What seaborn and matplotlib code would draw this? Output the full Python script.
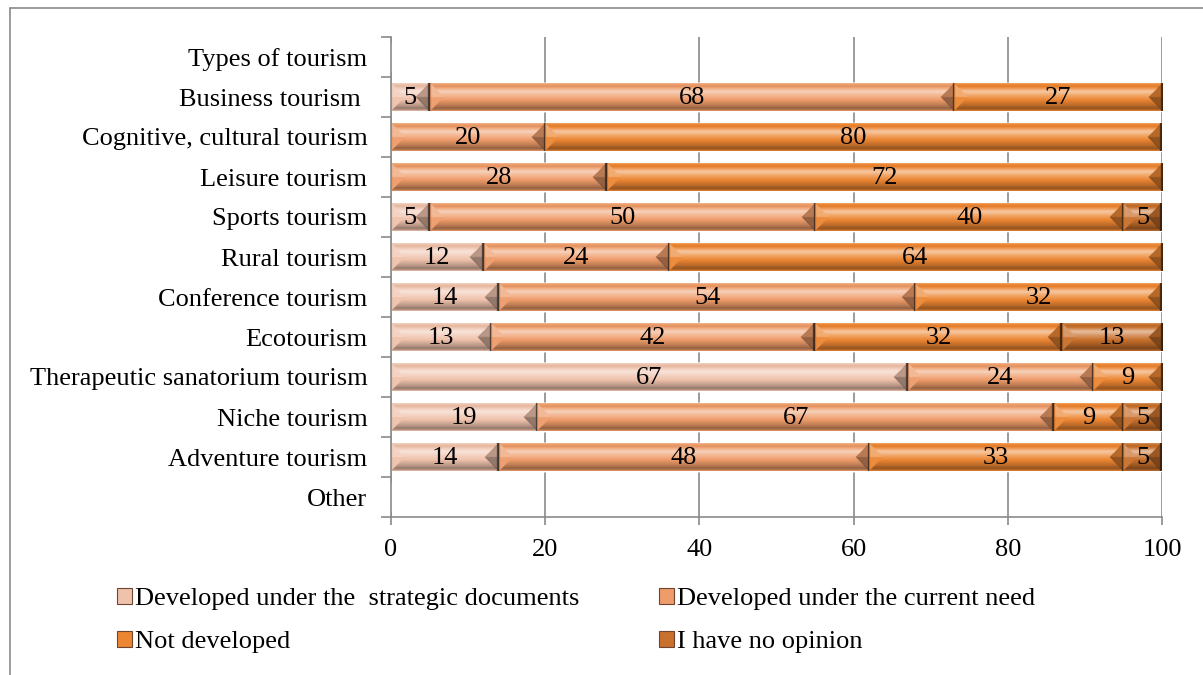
import numpy as np
import pandas as pd
import matplotlib
matplotlib.use("Agg")
import matplotlib.pyplot as plt
import seaborn as sns
from matplotlib.colors import to_rgb
from matplotlib.patches import Patch
from matplotlib.lines import Line2D

# ---- data -------------------------------------------------------------
categories = [
    "Types of tourism",
    "Business tourism ",
    "Cognitive, cultural tourism",
    "Leisure tourism",
    "Sports tourism",
    "Rural tourism",
    "Conference tourism",
    "Ecotourism",
    "Therapeutic sanatorium tourism",
    "Niche tourism",
    "Adventure tourism",
    "Other",
]
strategic = [0, 5, 0, 0, 5, 12, 14, 13, 67, 19, 14, 0]
current_need = [0, 68, 20, 28, 50, 24, 54, 42, 24, 67, 48, 0]
not_developed = [0, 27, 80, 72, 40, 64, 32, 32, 9, 9, 33, 0]
no_opinion = [0, 0, 0, 0, 5, 0, 0, 13, 0, 5, 5, 0]

series_names = [
    "Developed under the  strategic documents",
    "Developed under the current need",
    "Not developed",
    "I have no opinion",
]
series_colors = ["#EFC2AC", "#EE9C6A", "#EC8633", "#C8702C"]
x_ticks = [0, 20, 40, 60, 80, 100]

# ---- style ------------------------------------------------------------
sns.set_theme(style="white")
plt.rcParams["font.family"] = ["Liberation Serif", "DejaVu Serif"]
plt.rcParams["text.color"] = "black"
plt.rcParams["xtick.labelcolor"] = "black"
plt.rcParams["ytick.labelcolor"] = "black"
FS = 19
GRAY = "#8a8a8a"

fig = plt.figure(figsize=(12.03, 6.75), dpi=100)
ax = fig.add_axes([391 / 1203, 1 - 517 / 675, 771 / 1203, 480 / 675])

df = pd.DataFrame({"category": categories})
for name, vals in zip(series_names, [strategic, current_need, not_developed, no_opinion]):
    df[name] = vals
cum = df[series_names].cumsum(axis=1)

# stacked bars: draw the longest cumulative first, shorter ones on top
BAR_H = 0.7
for name, color in reversed(list(zip(series_names, series_colors))):
    sns.barplot(x=cum[name], y=df["category"], order=categories, color=color,
                orient="h", width=BAR_H, saturation=1, errorbar=None, ax=ax,
                zorder=1)

ax.set_xlim(0, 100)
ax.set_ylim(len(categories) - 0.5, -0.5)


def shade(rgb, w_px, h_px):
    """Bevelled bar surface: vertical sheen plus lighter/darker end facets."""
    rgb = np.asarray(rgb)
    H = max(int(h_px * 3), 4)
    W = max(int(w_px * 2), 4)
    v = (np.arange(H) + 0.5) / H
    u = (np.arange(W) + 0.5) * (w_px / W)  # pixels from left end
    pv = [0.0, 0.05, 0.13, 0.3, 0.45, 0.6, 0.8, 0.9, 0.97, 1.0]
    pt = [0.3, 0.0, -0.06, 0.55, 0.25, 0.0, -0.22, -0.38, -0.2, 0.1]
    t = np.interp(v, pv, pt)[:, None] * np.ones((1, W))
    d_top = v[:, None] * h_px
    d_bot = (1 - v[:, None]) * h_px
    d_side = np.minimum(d_top, d_bot)
    d_left = u[None, :] * np.ones((H, 1))
    d_right = (w_px - u)[None, :] * np.ones((H, 1))
    left_facet = d_left < d_side
    right_facet = d_right < d_side
    upper = v[:, None] < 0.5
    t = np.where(left_facet, np.where(upper, 0.3, 0.05), t)
    t = np.where(right_facet, np.where(upper, -0.22, -0.38), t)
    t = np.where(np.abs(d_right - d_side) < 0.7, t - 0.15, t)
    t = np.where(d_right < 1.8, -0.72, t)
    t = np.where(d_left < 0.8, -0.2, t)
    t = t[:, :, None]
    out = np.where(t > 0, rgb + (1 - rgb) * t, rgb * (1 + t))
    return np.clip(out, 0, 1)


fig.canvas.draw()
px_x = ax.transData.transform((1, 0))[0] - ax.transData.transform((0, 0))[0]
px_y = abs(ax.transData.transform((0, 1))[1] - ax.transData.transform((0, 0))[1])

for i, cat in enumerate(categories):
    left = 0.0
    for name, color in zip(series_names, series_colors):
        val = float(df.loc[i, name])
        if val > 0:
            img = shade(to_rgb(color), val * px_x, BAR_H * px_y)
            ax.imshow(img, extent=(left, left + val, i + BAR_H / 2, i - BAR_H / 2),
                      origin="upper", aspect="auto", zorder=2,
                      interpolation="bilinear")
            ax.text(left + val / 2, i + 0.02, f"{val:g}", ha="center", va="center",
                    fontsize=FS, color="black", zorder=3)
        left += val

ax.set_xlim(0, 100)
ax.set_ylim(len(categories) - 0.5, -0.5)

# ---- axes ------------------------------------------------------------
ax.set_xlabel("")
ax.set_ylabel("")
ax.set_xticks(x_ticks)
ax.set_xticklabels([str(t) for t in x_ticks], fontsize=FS)
ax.set_yticks(range(len(categories)))
ax.set_yticklabels(categories, fontsize=FS)
ax.set_yticks(np.arange(-0.5, len(categories), 1), minor=True)
ax.tick_params(axis="y", which="major", length=0, pad=17)
ax.tick_params(axis="y", which="minor", length=7, width=1.2, color=GRAY, left=True)
ax.tick_params(axis="x", which="major", length=6, width=1.2, color=GRAY,
               bottom=True, pad=10)
ax.xaxis.grid(True, color=GRAY, lw=1.2)
ax.yaxis.grid(False)
ax.set_axisbelow(True)
for side in ["top", "right"]:
    ax.spines[side].set_visible(False)
for side in ["left", "bottom"]:
    ax.spines[side].set_color(GRAY)
    ax.spines[side].set_linewidth(1.2)

# ---- legend ----------------------------------------------------------
handles = [Patch(facecolor=c, edgecolor="#6e4530", linewidth=0.8, label=n)
           for n, c in zip(series_names, series_colors)]
order = [0, 2, 1, 3]
fig.legend([handles[k] for k in order], [series_names[k] for k in order],
           ncol=2, loc="upper left", bbox_to_anchor=(117 / 1203, 1 - 588 / 675),
           frameon=False, fontsize=FS, handlelength=0.55, handleheight=0.55,
           handletextpad=0.15, columnspacing=3.0, labelspacing=0.79,
           borderaxespad=0, borderpad=0)

# ---- chart frame -----------------------------------------------------
fig.add_artist(Line2D([10 / 1203, 1], [1 - 8 / 675, 1 - 8 / 675],
                      transform=fig.transFigure, color=GRAY, lw=1.2))
fig.add_artist(Line2D([10 / 1203, 10 / 1203], [0, 1 - 8 / 675],
                      transform=fig.transFigure, color=GRAY, lw=1.2))

fig.savefig("out.png", dpi=100, facecolor="white")
